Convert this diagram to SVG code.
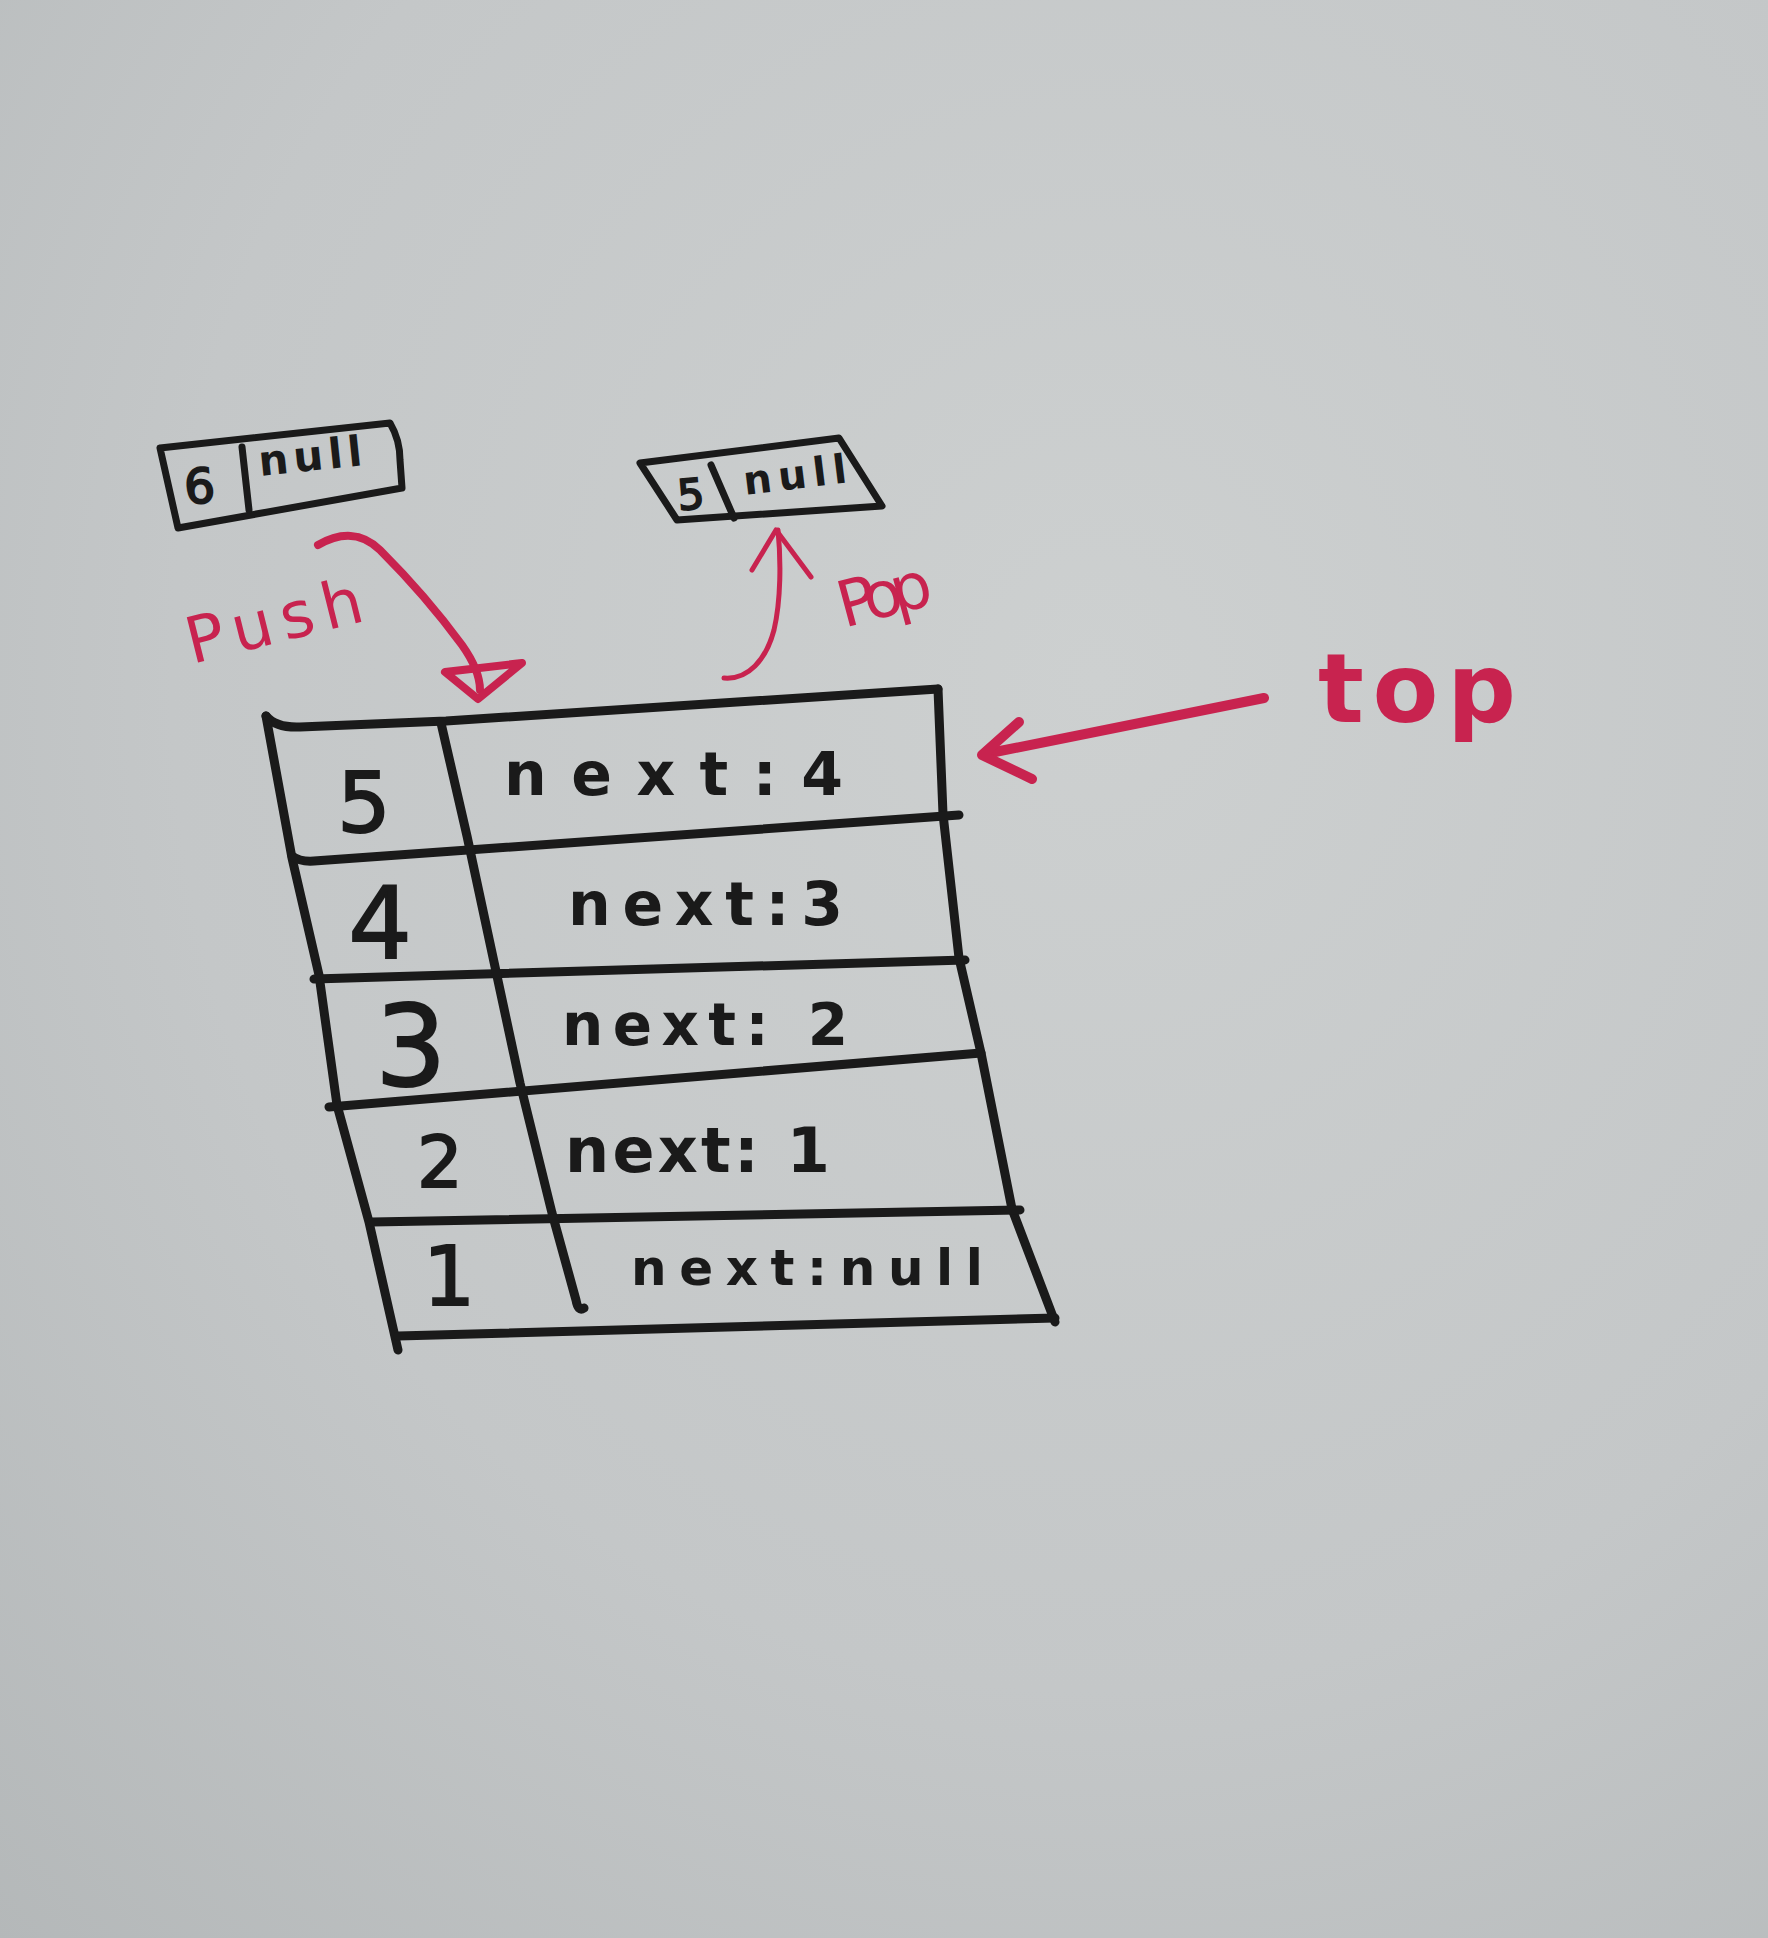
<svg xmlns="http://www.w3.org/2000/svg" width="1768" height="1938" viewBox="0 0 1768 1938">
<defs>
<radialGradient id="bg" cx="0.62" cy="0.35" r="0.95">
<stop offset="0" stop-color="#cdd0d0"/>
<stop offset="0.55" stop-color="#c4c7c8"/>
<stop offset="1" stop-color="#b2b6b7"/>
</radialGradient>
<style>
.ink{fill:none;stroke:#1a1a1a;stroke-width:9;stroke-linecap:round;stroke-linejoin:round}
.ink2{fill:none;stroke:#1a1a1a;stroke-width:7;stroke-linecap:round;stroke-linejoin:round}
.red{fill:none;stroke:#c8234f;stroke-linecap:round;stroke-linejoin:round}
.num{font-family:"DejaVu Sans","Liberation Sans",sans-serif;fill:#1a1a1a;stroke:#1a1a1a;stroke-width:2;text-anchor:middle}
.nx{font-family:"DejaVu Sans","Liberation Sans",sans-serif;font-weight:bold;fill:#1a1a1a}
.lbl{font-family:"DejaVu Sans","Liberation Sans",sans-serif;fill:#c8234f}
</style>
</defs>
<rect width="1768" height="1938" fill="url(#bg)"/>

<g id="node-stack">
<path class="ink" d="M266,716 Q276,728 300,727 L446,721 L938,689"/>
<path class="ink" d="M266,716 L292,858 L319,975 L337,1105 L369,1222 L398,1350"/>
<path class="ink" d="M938,689 L943,814 L959,958 L981,1053 L1012,1209 L1055,1322"/>
<path class="ink" d="M398,1336 L1055,1318"/>
<path class="ink" d="M292,856 Q300,862 314,861 L959,815"/>
<path class="ink" d="M314,979 L965,960"/>
<path class="ink" d="M329,1107 L981,1053"/>
<path class="ink" d="M372,1222 L1020,1210"/>
<path class="ink" d="M441,723 L467,836 L494,962 L520,1083 L552,1213 L576,1300 Q578,1312 584,1308"/>
<g id="row-5"><text class="num" x="364" y="832" font-size="84">5</text><text class="nx" x="504" y="795" font-size="60" textLength="339" lengthAdjust="spacing">next:4</text></g>
<g id="row-4"><text class="num" x="380" y="958" font-size="100">4</text><text class="nx" x="568" y="925" font-size="60" textLength="275" lengthAdjust="spacing">next:3</text></g>
<g id="row-3"><text class="num" x="411" y="1085" font-size="112">3</text><text class="nx" x="562" y="1045" font-size="58" textLength="286" lengthAdjust="spacing">next: 2</text></g>
<g id="row-2"><text class="num" x="440" y="1187" font-size="72">2</text><text class="nx" x="565" y="1172" font-size="62" textLength="265" lengthAdjust="spacing">next: 1</text></g>
<g id="row-1"><text class="num" x="449" y="1305" font-size="82">1</text><text class="nx" x="631" y="1285" font-size="50" textLength="352" lengthAdjust="spacing">next:null</text></g>
</g>

<g id="node-6">
<path class="ink2" d="M160,448 L390,423 Q400,440 400,460 L402,488 L178,528 Z"/>
<path class="ink2" d="M242,447 L249,510"/>
<text class="num" x="201" y="503" font-size="48" transform="rotate(-5 201 503)">6</text>
<text class="nx" x="260" y="476" font-size="42" textLength="104" lengthAdjust="spacing" transform="rotate(-6 260 476)">null</text>
</g>

<g id="node-5">
<path class="ink2" d="M640,463 L839,438 L882,506 L677,520 Z"/>
<path class="ink2" d="M711,465 L734,518"/>
<text class="num" x="692" y="509" font-size="42" transform="rotate(-5 692 509)">5</text>
<text class="nx" x="745" y="495" font-size="40" textLength="104" lengthAdjust="spacing" transform="rotate(-7 745 495)">null</text>
</g>

<g id="labels">
<text class="lbl" x="192" y="664" font-size="64" textLength="180" lengthAdjust="spacing" transform="rotate(-14 192 664)">Push</text>
<text class="lbl" x="844" y="628" font-size="64" textLength="95" lengthAdjust="spacing" transform="rotate(-15 844 628)">Pop</text>
<text class="lbl" x="1318" y="722" font-size="96" font-weight="bold" textLength="198" lengthAdjust="spacing">top</text>
</g>

<g id="connectors">
<g id="push-arrow">
<path class="red" stroke-width="8" d="M318,545 C340,532 362,532 380,550 C410,580 440,615 462,645 C474,662 480,676 480,690"/>
<path class="red" stroke-width="8" d="M445,672 L522,663 L478,699 Z"/>
</g>
<g id="pop-arrow">
<path class="red" stroke-width="5" d="M724,678 C748,680 766,660 774,630 C781,600 781,560 778,530"/>
<path class="red" stroke-width="5" d="M752,570 L776,530 L811,577"/>
</g>
<g id="top-arrow">
<path class="red" stroke-width="10" d="M1264,698 L995,752"/>
<path class="red" stroke-width="10" d="M1019,722 L982,755 L1032,779"/>
</g>
</g>
</svg>
